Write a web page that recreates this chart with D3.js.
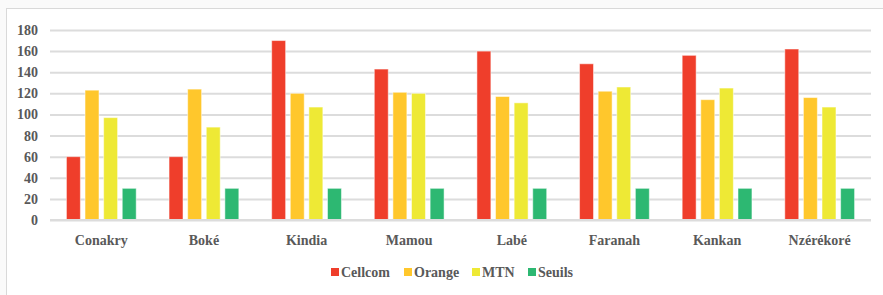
<!DOCTYPE html>
<html lang="fr">
<head>
  <meta charset="UTF-8">
  <title>Opérateurs par région</title>
  <script src="https://d3js.org/d3.v7.min.js"></script>
  <style>
    body { margin: 0; background: #fafafa; }
  </style>
</head>
<body>
<svg width="883" height="295"></svg>
<script>
  const regions = ["Conakry", "Boké", "Kindia", "Mamou", "Labé", "Faranah", "Kankan", "Nzérékoré"];
  const series = ["Cellcom", "Orange", "MTN", "Seuils"];
  const cellcom = [60, 60, 170, 143, 160, 148, 156, 162];
  const orange = [123, 124, 120, 121, 117, 122, 114, 116];
  const mtn = [97, 88, 107, 120, 111, 126, 125, 107];
  const seuils = [30, 30, 30, 30, 30, 30, 30, 30];
  const yTicks = [0, 20, 40, 60, 80, 100, 120, 140, 160, 180];
  const colors = ["#ef3e2b", "#ffc72c", "#eee935", "#2db872"];

  const values = [cellcom, orange, mtn, seuils];
  const rows = regions.map((r, i) => ({ region: r, vals: values.map(v => v[i]) }));

  const font = "'Liberation Serif', 'Times New Roman', 'DejaVu Serif', serif";
  const textColor = "#595959";

  const svg = d3.select("svg");

  // chart frame
  svg.append("rect")
    .attr("x", 6.5).attr("y", 8.5)
    .attr("width", 900).attr("height", 300)
    .attr("fill", "#fff")
    .attr("stroke", "#d9d9d9");

  const plotLeft = 50, plotRight = 871, plotTop = 30, plotBottom = 220;

  const y = d3.scaleLinear().domain([0, 180]).range([plotBottom, plotTop]);
  const x0 = d3.scaleBand().domain(regions).range([plotLeft, plotRight])
    .paddingInner(0.32).paddingOuter(0.16);
  const x1 = d3.scaleBand().domain(series).range([0, x0.bandwidth()])
    .paddingInner(0.25).paddingOuter(0);
  const color = d3.scaleOrdinal().domain(series).range(colors);

  // gridlines + labels
  const yAxis = svg.append("g")
    .attr("transform", `translate(${plotLeft},0)`)
    .call(d3.axisLeft(y).tickValues(yTicks).tickSize(-(plotRight - plotLeft)).tickPadding(12));
  yAxis.select(".domain").remove();
  yAxis.selectAll(".tick line").attr("stroke", "#dcdcdc").attr("stroke-width", 2);
  yAxis.selectAll(".tick text")
    .attr("font-family", font).attr("font-weight", "bold")
    .attr("font-size", 14).attr("fill", textColor);

  const groups = svg.append("g")
    .selectAll("g")
    .data(rows)
    .join("g")
    .attr("transform", d => `translate(${x0(d.region)},0)`);

  groups.selectAll("rect")
    .data(d => d.vals.map((v, i) => ({ key: series[i], value: v })))
    .join("rect")
    .attr("x", d => x1(d.key))
    .attr("y", d => y(d.value))
    .attr("width", x1.bandwidth())
    .attr("height", d => y(0) - y(d.value))
    .attr("fill", d => color(d.key))
    .attr("stroke", "#fff")
    .attr("stroke-opacity", 0.5);

  // baseline
  svg.append("line")
    .attr("x1", plotLeft).attr("x2", plotRight)
    .attr("y1", y(0)).attr("y2", y(0))
    .attr("stroke", "#dcdcdc").attr("stroke-width", 2);

  svg.append("g")
    .selectAll("text")
    .data(regions)
    .join("text")
    .attr("x", d => x0(d) + x0.bandwidth() / 2)
    .attr("y", 245)
    .attr("text-anchor", "middle")
    .attr("font-family", font).attr("font-weight", "bold")
    .attr("font-size", 14).attr("fill", textColor)
    .text(d => d);

  // legend
  const legendX = [331, 404, 472, 528];
  const legend = svg.append("g")
    .selectAll("g")
    .data(series)
    .join("g")
    .attr("transform", (d, i) => `translate(${legendX[i]},268)`);
  legend.append("rect")
    .attr("width", 8).attr("height", 8)
    .attr("fill", d => color(d));
  legend.append("text")
    .attr("x", 10).attr("y", 9)
    .attr("font-family", font).attr("font-weight", "bold")
    .attr("font-size", 14).attr("fill", textColor)
    .text(d => d);
</script>
</body>
</html>
